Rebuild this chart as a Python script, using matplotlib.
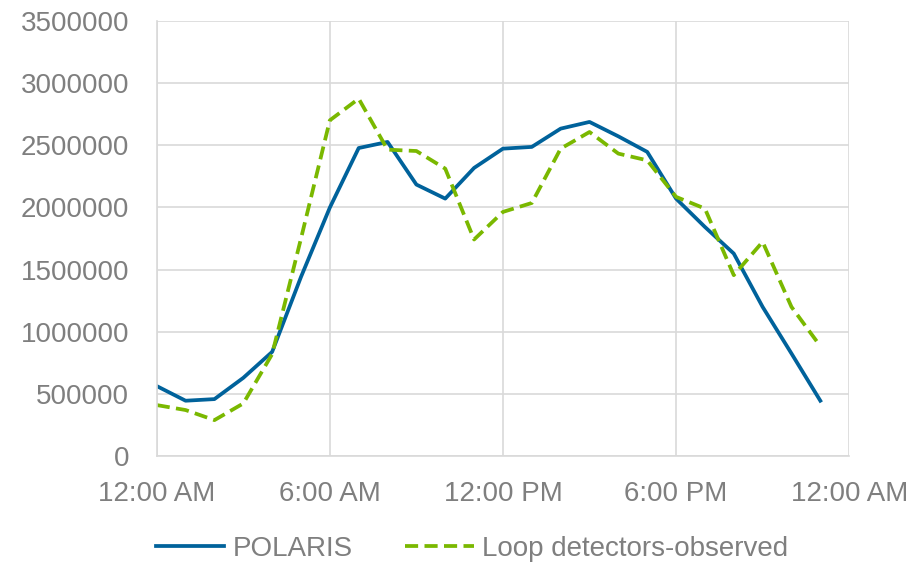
import numpy as np
import matplotlib.pyplot as plt

plt.rcParams['font.family'] = ['Liberation Sans', 'DejaVu Sans']

# hourly values
hours = list(range(24))
polaris = [563000, 445000, 458000, 629000, 838000, 1441000, 1999000, 2478000,
           2527000, 2184000, 2071000, 2318000, 2473000, 2487000, 2634000, 2688000,
           2572000, 2447000, 2071000, 1843000, 1629000, 1200000, 825000, 445000]
loop_obs = [410000, 370000, 289000, 423000, 820000, 1750000, 2701000, 2875000,
            2465000, 2454000, 2312000, 1742000, 1964000, 2036000, 2473000, 2607000,
            2433000, 2379000, 2085000, 1991000, 1455000, 1723000, 1200000, 884000]

xtick_pos = [0, 6, 12, 18, 24]
xtick_labels = ['12:00 AM', '6:00 AM', '12:00 PM', '6:00 PM', '12:00 AM']
yticks = np.arange(0, 3500001, 500000)

grey = '#7F7F7F'
grid_col = '#D9D9D9'

fig = plt.figure(figsize=(9.22, 5.63), dpi=100)
ax = fig.add_axes([0.170, 0.190, 0.751, 0.7727])

ax.plot(hours, polaris, color='#00629B', lw=2.7, label='POLARIS')
ax.plot(hours, loop_obs, color='#7AB800', lw=2.7, ls=(0, (3.5, 1.7)),
        label='Loop detectors-observed')

ax.set_xlim(0, 24)
ax.set_ylim(0, 3500000)
ax.set_xticks(xtick_pos)
ax.set_xticklabels(xtick_labels)
ax.set_yticks(yticks)
ax.set_yticklabels([str(v) for v in yticks])
ax.tick_params(colors=grey, labelsize=20, length=0)
ax.tick_params(axis='y', pad=20)
ax.tick_params(axis='x', pad=18)

ax.grid(True, color=grid_col, lw=1.2)
ax.set_axisbelow(True)
for side in ['top', 'right']:
    ax.spines[side].set_visible(False)
for side in ['left', 'bottom']:
    ax.spines[side].set_color(grid_col)
    ax.spines[side].set_linewidth(1.2)

fig.legend(loc='center', bbox_to_anchor=(0.512, 1 - 549 / 563), ncol=2,
           frameon=False, fontsize=20, labelcolor=grey, handlelength=2.45,
           columnspacing=1.9, handletextpad=0.3)

fig.savefig('out.png', dpi=100)
